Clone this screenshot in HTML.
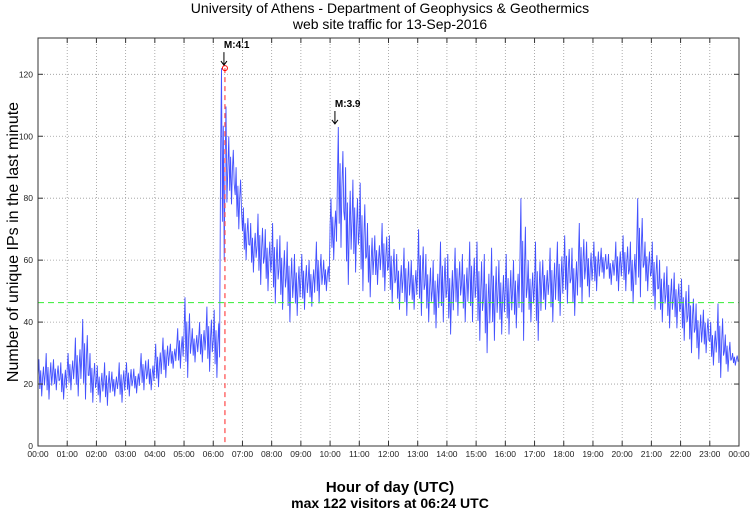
<!DOCTYPE html>
<html><head><meta charset="utf-8"><style>
body{margin:0;background:#fff;width:750px;height:511px;overflow:hidden}
svg{display:block;font-family:"Liberation Sans",sans-serif}
</style></head><body>
<svg id="chart" width="750" height="511" viewBox="0 0 750 511">
<text x="390" y="13" font-size="14" text-anchor="middle">University of Athens - Department of Geophysics &amp; Geothermics</text>
<text x="390" y="29" font-size="14" text-anchor="middle">web site traffic for 13-Sep-2016</text>
<text x="390" y="492" font-size="15" font-weight="bold" text-anchor="middle">Hour of day (UTC)</text>
<text x="390" y="508" font-size="14" font-weight="bold" text-anchor="middle">max 122 visitors at 06:24 UTC</text>
<text transform="translate(18,242) rotate(-90)" font-size="16" text-anchor="middle">Number of unique IPs in the last minute</text>
<g id="grid"></g><g id="series"></g><g id="overlay"></g><g id="axes"></g>
</svg>
<script>
const hourLabels=["00:00","01:00","02:00","03:00","04:00","05:00","06:00","07:00","08:00","09:00","10:00","11:00","12:00","13:00","14:00","15:00","16:00","17:00","18:00","19:00","20:00","21:00","22:00","23:00","00:00"];
const yTicks=[0,20,40,60,80,100,120];
// 15-minute bins: high and low of the minute counts
const hiVals=[28,30,28,27, 30,35,41,30, 26,27,24,27, 27,25,30,28, 33,35,33,38, 48,38,40,45, 44,122,100,90, 77,72,75,70, 72,68,66,62, 62,60,66,60, 80,103,90,86, 85,72,68,72, 68,62,64,60, 70,62,60,66, 62,64,62,66, 66,62,64,60, 62,60,80,60, 66,60,64,66, 68,64,72,66, 66,64,62,66, 68,66,80,66, 66,60,58,56, 54,52,46,44, 40,46,36,30];
const loVals=[16,15,18,15, 18,16,15,14, 14,13,16,14, 16,17,18,18, 19,22,25,25, 22,27,27,24, 22,60,78,70, 60,56,52,50, 46,44,40,42, 44,45,46,50, 60,64,52,56, 50,48,52,50, 46,44,42,44, 42,40,38,40, 36,42,40,40, 34,30,34,36, 36,38,34,40, 34,44,40,42, 46,42,46,48, 50,54,52,50, 50,46,48,50, 44,40,38,38, 34,30,28,30, 26,22,24,26];
const peakValue=122, peakMinute=384, meanValue=46.3;
const quakes=[{label:"M:4.1",minute:384,value:122},{label:"M:3.9",minute:612,value:103}];

const X0=38,X1=739,Y0=446,YT=38,ys=(446-74.3)/120;
const xs=m=>X0+(X1-X0)*m/1440, yv=v=>Y0-v*ys;
const NS="http://www.w3.org/2000/svg";
function mk(tag,attrs,parent){const e=document.createElementNS(NS,tag);for(const k in attrs)e.setAttribute(k,attrs[k]);parent.appendChild(e);return e;}
const grid=document.getElementById('grid'),axes=document.getElementById('axes'),series=document.getElementById('series'),ov=document.getElementById('overlay');
hourLabels.forEach((l,i)=>{const x=xs(i*60);
 if(i>0&&i<24){const g=mk('line',{x1:x,x2:x,y1:YT,y2:Y0,stroke:'#999','stroke-width':0.8,'stroke-dasharray':'1,2'},grid);}
 mk('line',{x1:x,x2:x,y1:Y0,y2:Y0-5,stroke:'#333'},axes);mk('line',{x1:x,x2:x,y1:YT,y2:YT+5,stroke:'#333'},axes);
 const t=mk('text',{x:x,y:457,'font-size':8.5,'text-anchor':'middle',fill:'#222'},axes);t.textContent=l;
 });
yTicks.forEach(v=>{const y=yv(v);
 if(v>0){const g=mk('line',{x1:X0,x2:X1,y1:y,y2:y,stroke:'#999','stroke-width':0.8,'stroke-dasharray':'1,2'},grid);}
 mk('line',{x1:X0,x2:X0+5,y1:y,y2:y,stroke:'#333'},axes);mk('line',{x1:X1,x2:X1-5,y1:y,y2:y,stroke:'#333'},axes);
 const t=mk('text',{x:33,y:y+3,'font-size':8.5,'text-anchor':'end',fill:'#222'},axes);t.textContent=v;
 });
const frame=mk('rect',{x:X0,y:YT,width:X1-X0,height:Y0-YT,fill:'none',stroke:'#333'},axes);

let pts=[];
hiVals.forEach((h,i)=>{const lo=loVals[i],m=i*15,d=h-lo;
 const seq=[lo+d*0.55,h,lo+d*0.2,lo+d*0.7,lo,lo+d*0.5,lo+d*0.8,lo+d*0.3];
 seq.forEach((v,k)=>pts.push(xs(m+k*1.875).toFixed(1)+','+yv(v).toFixed(1)));});
const line=mk('polyline',{points:pts.join(' '),fill:'none',stroke:'#2233ff','stroke-width':0.9,'stroke-linejoin':'bevel','stroke-opacity':0.85},series);

const mean=mk('line',{x1:X0,x2:X1,y1:yv(meanValue),y2:yv(meanValue),stroke:'#33ee33','stroke-width':1,'stroke-dasharray':'6,4'},ov);

const pv=mk('line',{x1:xs(peakMinute),x2:xs(peakMinute),y1:yv(peakValue),y2:Y0,stroke:'#ff5555','stroke-width':1.3,'stroke-dasharray':'5,4'},ov);

const pc=mk('circle',{cx:xs(peakMinute),cy:yv(peakValue),r:2.5,fill:'none',stroke:'red'},ov);

quakes.forEach(q=>{const x=xs(q.minute),y=yv(q.value);
 const t=mk('text',{x:x-1,y:y-20,'font-size':10,'font-weight':'bold'},ov);t.textContent=q.label;
 
 const a=mk('path',{d:`M${x-1},${y-16}V${y-3}M${x-4},${y-7}L${x-1},${y-3}L${x+2},${y-7}`,fill:'none',stroke:'#000'},ov);
 });
</script>
</body></html>
